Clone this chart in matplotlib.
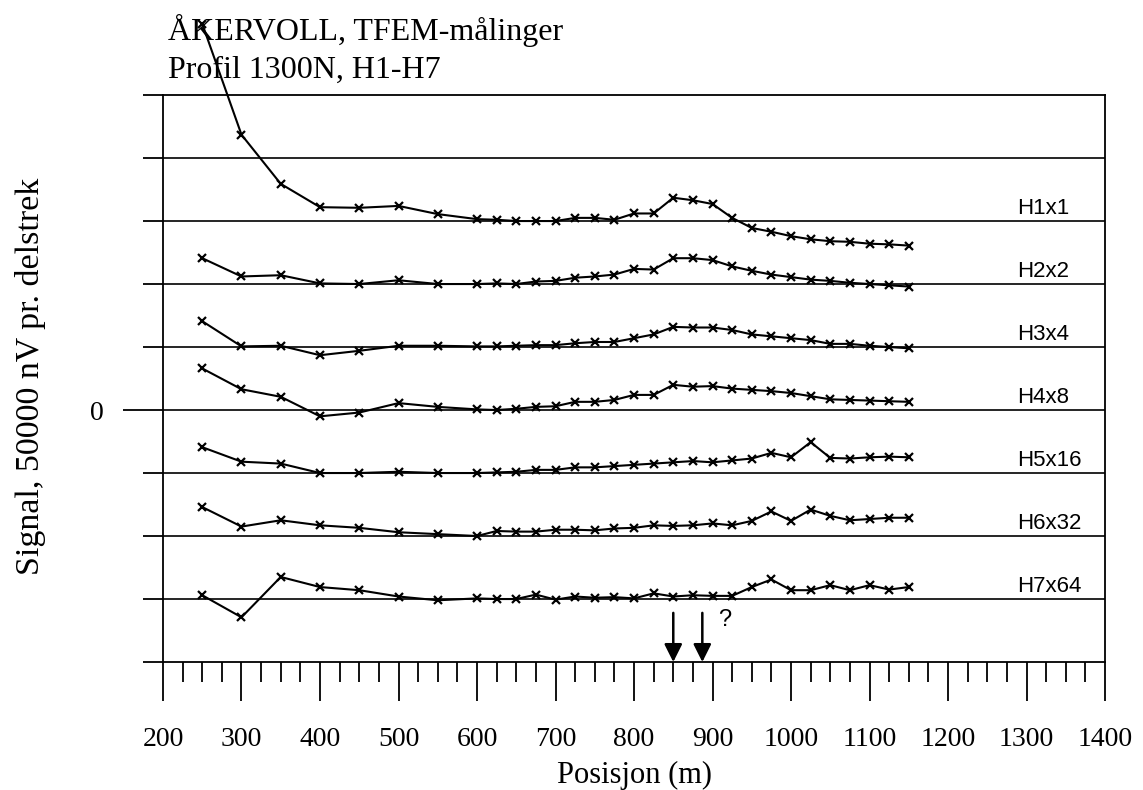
import matplotlib
matplotlib.use("Agg")
import matplotlib.pyplot as plt
from matplotlib.ticker import MultipleLocator, FixedLocator

# positions along the profile (m)
posisjon = [250, 300, 350, 400, 450, 500, 550, 600, 625, 650, 675, 700, 725, 750, 775,
            800, 825, 850, 875, 900, 925, 950, 975, 1000, 1025, 1050, 1075, 1100, 1125, 1150]

# signal per channel, relative to its own baseline (gridline units)
h1 = [3.13, 1.37, 0.59, 0.22, 0.21, 0.24, 0.11, 0.03, 0.02, 0.0, 0.0, 0.0, 0.05, 0.05, 0.02,
      0.12, 0.12, 0.37, 0.33, 0.27, 0.05, -0.11, -0.17, -0.24, -0.29, -0.32, -0.33, -0.36, -0.37, -0.39]
h2 = [0.41, 0.12, 0.14, 0.01, 0.0, 0.06, 0.0, 0.0, 0.01, 0.0, 0.04, 0.05, 0.10, 0.12, 0.15,
      0.24, 0.23, 0.41, 0.41, 0.38, 0.28, 0.21, 0.15, 0.11, 0.07, 0.05, 0.02, 0.0, -0.02, -0.04]
h3 = [0.41, 0.01, 0.02, -0.13, -0.06, 0.02, 0.02, 0.01, 0.01, 0.02, 0.03, 0.03, 0.06, 0.08, 0.08,
      0.14, 0.20, 0.32, 0.31, 0.31, 0.27, 0.20, 0.17, 0.14, 0.11, 0.05, 0.05, 0.02, 0.0, -0.02]
h4 = [0.66, 0.33, 0.21, -0.10, -0.04, 0.11, 0.05, 0.01, 0.0, 0.02, 0.05, 0.06, 0.13, 0.13, 0.16,
      0.24, 0.24, 0.40, 0.37, 0.38, 0.34, 0.32, 0.30, 0.27, 0.22, 0.17, 0.16, 0.15, 0.14, 0.13]
h5 = [0.41, 0.18, 0.15, 0.0, 0.0, 0.02, 0.0, 0.0, 0.01, 0.02, 0.05, 0.05, 0.09, 0.09, 0.11,
      0.13, 0.15, 0.17, 0.19, 0.17, 0.20, 0.23, 0.32, 0.25, 0.49, 0.24, 0.23, 0.25, 0.26, 0.25]
h6 = [0.46, 0.15, 0.25, 0.17, 0.13, 0.06, 0.03, 0.0, 0.08, 0.07, 0.07, 0.10, 0.10, 0.09, 0.12,
      0.13, 0.17, 0.16, 0.17, 0.20, 0.17, 0.24, 0.39, 0.24, 0.42, 0.32, 0.25, 0.27, 0.29, 0.29]
h7 = [0.06, -0.29, 0.35, 0.19, 0.14, 0.04, -0.02, 0.01, 0.0, 0.0, 0.07, -0.01, 0.04, 0.02, 0.03,
      0.01, 0.09, 0.04, 0.06, 0.05, 0.05, 0.19, 0.31, 0.14, 0.14, 0.22, 0.14, 0.22, 0.15, 0.19]

serier = [h1, h2, h3, h4, h5, h6, h7]
etiketter = ["H1x1", "H2x2", "H3x4", "H4x8", "H5x16", "H6x32", "H7x64"]
grunnlinjer = [3, 2, 1, 0, -1, -2, -3]

piler_x = [850, 887]

SERIF = "Liberation Serif"
SANS = "Liberation Sans"


def main():
    fig = plt.figure(figsize=(11.43, 7.9), dpi=100)
    ax = fig.add_axes([0.1426, 0.162, 0.8242, 0.7177])

    ax.set_xlim(200, 1400)
    ax.set_ylim(-4, 5)

    # horizontal reference lines
    for y in range(-3, 5):
        ax.axhline(y, color="black", lw=1.2, zorder=1)

    for verdier, base, navn in zip(serier, grunnlinjer, etiketter):
        ys = [v + base for v in verdier]
        ax.plot(posisjon, ys, color="black", lw=1.5, marker="x", ms=6, mew=1.6,
                clip_on=False, zorder=3)
        ax.text(1288, base + 0.04, navn, ha="left", va="bottom", fontsize=16,
                family=SANS)

    for px in piler_x:
        ax.annotate("", xy=(px, -4), xytext=(px, -3.22),
                    arrowprops=dict(arrowstyle="-|>,head_length=0.6,head_width=0.3",
                                    color="black", lw=1.8, mutation_scale=18,
                                    shrinkA=0, shrinkB=0))
    ax.text(916, -3.33, "?", fontsize=17, family=SANS, ha="center", va="center")

    for s in ax.spines.values():
        s.set_linewidth(1.3)

    ax.xaxis.set_major_locator(MultipleLocator(100))
    ax.xaxis.set_minor_locator(MultipleLocator(25))
    ax.tick_params(axis="x", which="major", length=28, width=1.3, direction="out",
                   pad=18.5, labelsize=20)
    ax.tick_params(axis="x", which="minor", length=14.4, width=1.3, direction="out")
    for lab in ax.get_xticklabels():
        lab.set_family(SERIF)

    ax.yaxis.set_major_locator(FixedLocator(list(range(-4, 6))))
    ax.set_yticklabels(["0" if v == 0 else "" for v in range(-4, 6)])
    ax.tick_params(axis="y", which="major", length=14.4, width=1.3, direction="out",
                   pad=28, labelsize=20)
    for t, v in zip(ax.yaxis.get_major_ticks(), range(-4, 6)):
        t.label1.set_family(SERIF)
        if v == 0:
            t.tick1line.set_markersize(28.8)

    ax.set_xlabel("Posisjon (m)", fontsize=22, family=SERIF, labelpad=7)
    fig.text(0.027, 0.523, "Signal, 50000 nV pr. delstrek", rotation=90,
             ha="center", va="center", fontsize=24.5, family=SERIF)

    fig.text(0.147, 0.949, "ÅKERVOLL, TFEM-målinger", fontsize=23, family=SERIF,
             va="baseline")
    fig.text(0.147, 0.901, "Profil 1300N, H1-H7", fontsize=23, family=SERIF,
             va="baseline")

    fig.savefig("out.png", dpi=100)


if __name__ == "__main__":
    main()
